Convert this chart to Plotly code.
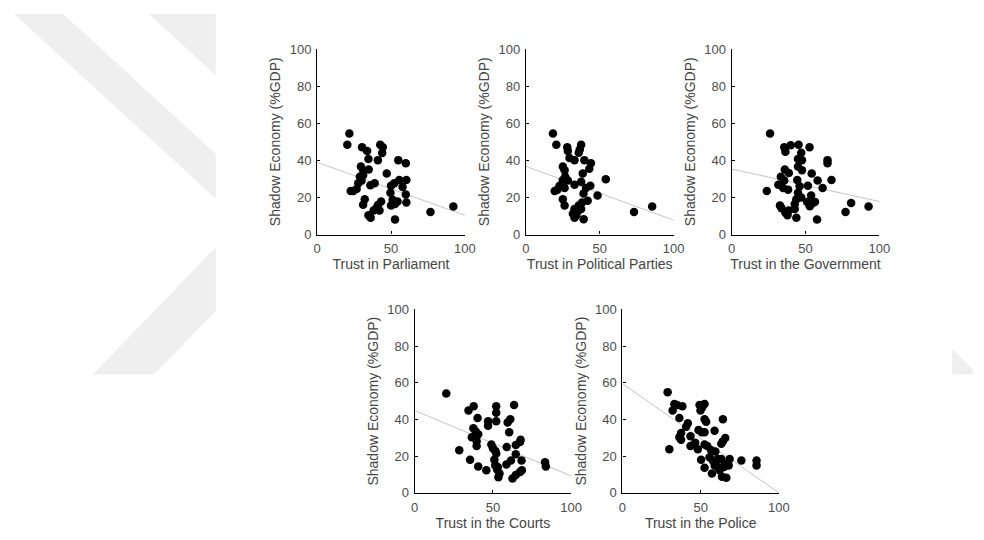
import plotly.graph_objects as go

# The page body keeps its default 8px margin, so the figure is sized to fill
# the 984x540 window exactly and reference pixel positions are offset by 8.
PAGE_W, PAGE_H, OFF = 984, 540, 8
W, H = PAGE_W - 2 * OFF, PAGE_H - 2 * OFF

titles = ["Trust in Parliament", "Trust in Political Parties", "Trust in the Government",
          "Trust in the Courts", "Trust in the Police"]
y_title = "Shadow Economy (%GDP)"

parliament_x = [21.8, 20.4, 30.4, 33.8, 42.7, 44.4, 44.0, 34.7, 41.1, 54.9, 60.0, 29.6, 31.1, 34.9, 47.1,
                28.9, 31.1, 30.0, 27.8, 26.7, 22.7, 24.4, 36.0, 38.9, 52.2, 55.6, 60.4, 57.8, 50.0, 60.0,
                49.6, 32.2, 31.1, 43.3, 41.1, 40.0, 38.2, 42.2, 51.1, 50.0, 54.4, 52.7, 60.4, 34.7, 36.2,
                52.7, 76.7, 92.2]
parliament_y = [54.5, 48.4, 47.1, 45.0, 48.4, 47.0, 44.0, 40.7, 40.1, 40.1, 38.4, 36.7, 34.6, 35.0, 32.9,
                31.1, 32.0, 29.0, 27.7, 24.6, 23.4, 23.4, 26.5, 27.7, 27.7, 29.4, 29.4, 25.6, 26.3, 21.6,
                22.5, 19.0, 16.1, 17.8, 15.9, 14.2, 13.0, 13.0, 18.7, 15.6, 17.8, 16.4, 17.3, 10.4, 9.0,
                8.1, 12.1, 15.1]

parties_x = [18.3, 20.6, 28.0, 28.4, 37.4, 36.5, 35.8, 29.5, 32.9, 39.6, 44.0, 25.0, 26.2, 42.9, 38.5,
             26.6, 25.0, 28.4, 37.4, 32.9, 22.8, 26.2, 54.1, 43.6, 40.7, 19.5, 21.3, 39.0, 48.5, 25.0,
             26.2, 41.8, 38.0, 35.8, 32.9, 31.8, 34.0, 35.1, 37.4, 39.1, 32.9, 73.2, 85.5]
parties_y = [54.5, 48.4, 47.1, 45.0, 48.4, 45.8, 44.1, 41.2, 40.1, 40.1, 38.4, 36.7, 34.6, 35.5, 32.9,
             31.1, 29.4, 29.1, 28.5, 26.8, 26.3, 25.1, 29.8, 26.3, 25.1, 23.4, 24.2, 22.1, 21.1, 19.0,
             15.6, 18.2, 17.3, 15.6, 13.8, 11.2, 10.4, 12.6, 13.8, 8.3, 9.0, 12.1, 15.1]

government_x = [26.0, 23.8, 35.6, 36.4, 40.0, 45.3, 47.1, 52.7, 44.9, 47.6, 64.9, 64.9, 36.0, 38.7, 44.9,
                47.6, 54.2, 33.3, 35.6, 31.6, 34.9, 38.2, 44.4, 46.0, 51.6, 58.2, 61.6, 67.6, 44.9, 53.8,
                43.8, 47.1, 51.1, 54.9, 56.4, 52.9, 32.7, 33.8, 38.7, 36.4, 37.8, 42.7, 42.7, 43.8, 57.8,
                77.1, 80.9, 92.7]
government_y = [54.5, 23.4, 47.1, 44.6, 48.1, 48.4, 44.1, 47.1, 40.7, 40.1, 40.1, 38.4, 35.0, 33.2, 36.7,
                34.6, 32.9, 31.1, 29.1, 26.8, 25.1, 24.2, 29.4, 26.0, 26.3, 29.1, 25.1, 29.4, 22.5, 21.1,
                19.0, 19.9, 17.6, 17.0, 17.6, 15.2, 15.6, 14.2, 13.0, 11.8, 10.4, 16.4, 13.8, 9.0, 8.1,
                12.1, 17.0, 15.1]

courts_x = [20.2, 28.5, 34.4, 37.7, 40.2, 52.1, 52.1, 52.1, 46.9, 46.9, 59.4, 61.1, 63.5, 60.4, 37.5,
            39.0, 40.6, 36.5, 39.6, 39.6, 49.0, 50.0, 51.5, 52.1, 58.8, 64.6, 67.7, 67.3, 64.6, 35.4,
            40.6, 45.8, 50.9, 51.5, 52.7, 54.2, 53.5, 58.6, 61.5, 62.5, 64.6, 67.3, 68.5, 68.3, 83.3,
            83.8, 53.1]
courts_y = [54.2, 23.2, 44.9, 47.2, 40.8, 39.1, 47.2, 43.7, 39.1, 36.6, 38.4, 40.1, 47.9, 33.1, 35.2,
            33.5, 32.0, 30.3, 28.2, 25.5, 26.4, 24.3, 22.9, 21.5, 25.0, 26.1, 29.0, 27.8, 21.1, 18.0,
            14.4, 12.3, 18.0, 15.0, 12.7, 10.6, 8.5, 15.5, 17.6, 7.9, 9.7, 11.4, 12.3, 17.6, 16.7,
            14.4, 14.1]

police_x = [28.9, 30.0, 33.2, 34.9, 32.1, 38.3, 36.4, 52.5, 49.3, 49.9, 51.0, 52.5, 53.5, 64.2, 41.8,
            40.7, 37.5, 36.4, 37.5, 43.5, 48.6, 50.7, 52.5, 58.9, 65.7, 64.2, 63.2, 43.5, 46.5, 48.2,
            52.5, 54.2, 56.7, 59.4, 50.3, 55.7, 57.8, 61.0, 63.2, 65.3, 68.5, 67.9, 76.0, 85.7, 85.7,
            52.5, 57.2, 61.0, 62.1, 63.6, 66.4, 58.9, 64.9]
police_y = [54.9, 23.8, 48.4, 47.9, 44.9, 47.2, 40.8, 48.4, 47.9, 44.9, 46.7, 40.1, 38.7, 40.1, 37.9,
            36.1, 32.6, 30.3, 29.0, 30.8, 34.3, 33.1, 33.1, 33.8, 29.9, 28.2, 26.8, 25.5, 27.3, 23.8,
            26.4, 25.5, 23.2, 22.5, 18.0, 19.4, 17.6, 18.5, 18.5, 15.8, 18.5, 15.0, 17.6, 17.6, 15.0,
            13.7, 10.6, 14.1, 12.3, 8.8, 8.3, 15.0, 14.1]

trend_intercept = [38.9, 36.7, 35.3, 44.9, 59.5]
trend_slope = [-0.285, -0.289, -0.175, -0.357, -0.595]

xs = [parliament_x, parties_x, government_x, courts_x, police_x]
ys = [parliament_y, parties_y, government_y, courts_y, police_y]

# panel plot-area boxes in page pixels: (left, right, top, bottom)
boxes = [(318, 468, 43, 234), (530, 680, 43, 234), (739, 889, 43, 234),
         (417, 576, 311, 500), (628, 787, 311, 500)]

def px(x):
    return (x - OFF) / W

def py(y):
    return 1 - (y - OFF) / H

fig = go.Figure()
fam = "Liberation Sans, Arial, sans-serif"
tick_font = dict(family=fam, size=13, color="#4d4d4d")
title_font = dict(family=fam, size=14, color="#444444")
ytitle_font = dict(family=fam, size=14, color="#444444")

for i in range(5):
    n = "" if i == 0 else str(i + 1)
    xa, ya = "x" + n, "y" + n
    l, r, t, b = boxes[i]
    fig.add_trace(go.Scatter(x=[0, 100], y=[trend_intercept[i], trend_intercept[i] + 100 * trend_slope[i]],
                             mode="lines", line=dict(color="#c4c4c4", width=1),
                             xaxis=xa, yaxis=ya, showlegend=False, hoverinfo="skip"))
    fig.add_trace(go.Scatter(x=xs[i], y=ys[i], mode="markers",
                             marker=dict(color="black", size=8.5, line=dict(width=0)),
                             xaxis=xa, yaxis=ya, showlegend=False, cliponaxis=False))
    common = dict(showline=True, linecolor="black", linewidth=1.3, showgrid=False, zeroline=False,
                  ticks="inside", ticklen=3, tickcolor="black", tickfont=tick_font,
                  range=[0, 100], fixedrange=True)
    fig.layout["xaxis" + n] = dict(common, domain=[px(l), px(r)], anchor=ya,
                                   tickvals=[0, 50, 100], ticklabelstandoff=2,
                                   title=dict(text=titles[i], font=title_font, standoff=3))
    fig.layout["yaxis" + n] = dict(common, domain=[py(b), py(t)], anchor=xa,
                                   tickvals=[0, 20, 40, 60, 80, 100], ticklabelstandoff=2,
                                   title=dict(text=y_title, font=ytitle_font, standoff=5))

wm_color = "#efefef"
def path(points):
    return "M " + " L ".join(f"{px(x):.5f},{py(y):.5f}" for x, y in points) + " Z"

watermark = [
    [(10, 7), (60, 7), (215, 151), (215, 197)],
    [(147, 7), (215, 7), (215, 70)],
    [(215, 247), (215, 313), (152, 378), (90, 378)],
    [(963, 352), (984, 373), (984, 378), (963, 378)],
]
fig.update_layout(shapes=[dict(type="path", xref="paper", yref="paper", path=path(p),
                               fillcolor=wm_color, line=dict(width=0), layer="below")
                          for p in watermark])

fig.update_layout(width=W, height=H, margin=dict(l=0, r=0, t=0, b=0),
                  paper_bgcolor="white", plot_bgcolor="rgba(0,0,0,0)")

fig.write_html("out.html", config={"displayModeBar": False})
